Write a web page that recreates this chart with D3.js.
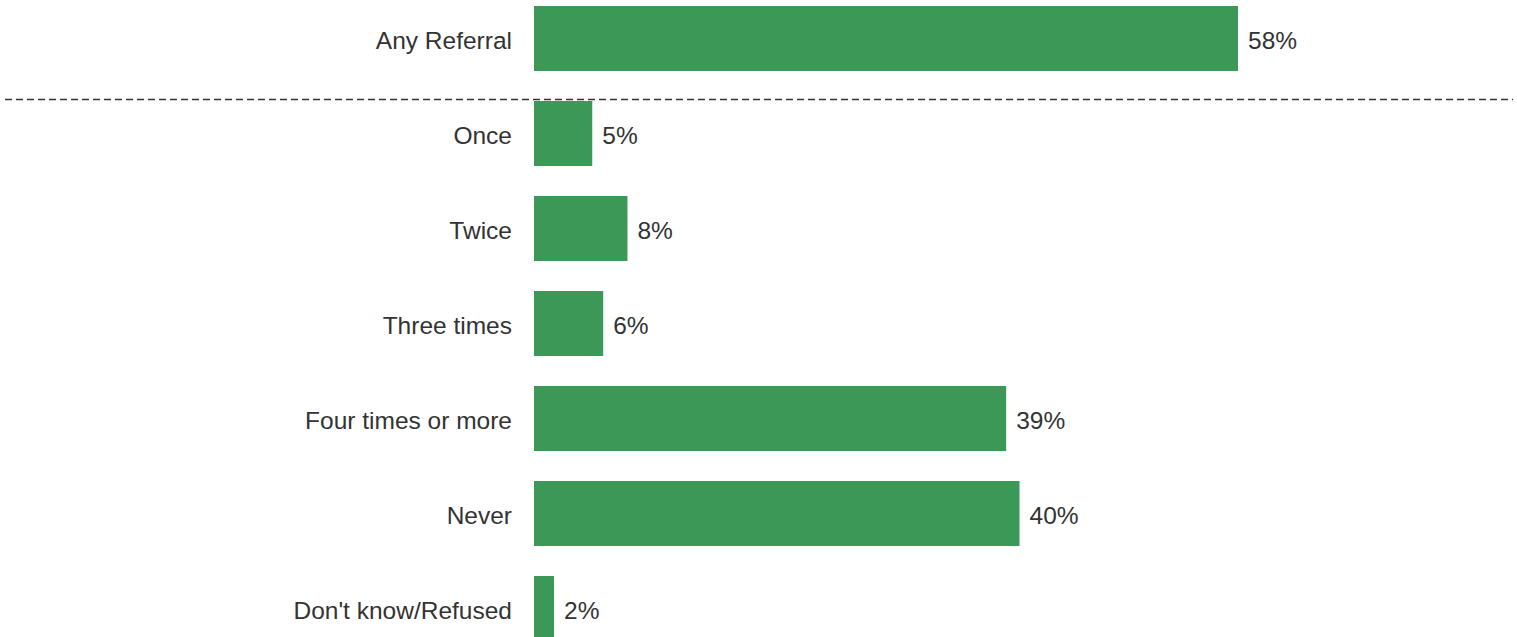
<!DOCTYPE html>
<html>
<head>
<meta charset="utf-8">
<script src="https://cdn.jsdelivr.net/npm/d3@7"></script>
<style>
  html, body { margin: 0; padding: 0; background: #fff; overflow: hidden; }
  svg { display: block; font-family: "Liberation Sans", Arial, sans-serif; }
</style>
</head>
<body>
<svg id="chart" width="1517" height="637"></svg>
<script>
const categories = ["Any Referral", "Once", "Twice", "Three times", "Four times or more", "Never", "Don't know/Refused"];
const values = [58.0, 4.8, 7.7, 5.7, 38.9, 40.0, 1.65];
const valueLabels = ["58%", "5%", "8%", "6%", "39%", "40%", "2%"];

const svg = d3.select("#chart");

const x = d3.scaleLinear().domain([0, 100]).range([534, 534 + 1213.8]);
const y = d3.scaleBand().domain(categories).range([6, 641]).paddingInner(0.316).paddingOuter(0);

const data = categories.map((c, i) => ({ cat: c, v: values[i], label: valueLabels[i] }));

svg.selectAll("rect.bar").data(data).join("rect")
  .attr("class", "bar")
  .attr("x", x(0))
  .attr("y", d => y(d.cat))
  .attr("width", d => x(d.v) - x(0))
  .attr("height", y.bandwidth())
  .attr("fill", "#3c9857");

// category labels (axis)
const axis = d3.axisLeft(y).tickSize(0).tickPadding(0);
const gAxis = svg.append("g").attr("transform", `translate(${512},0)`).call(axis);
gAxis.select(".domain").remove();
gAxis.selectAll("text")
  .attr("font-size", 24.5)
  .attr("fill", "#333")
  .attr("font-family", "'Liberation Sans', Arial, sans-serif")
  .attr("dy", "0.42em");

// value labels
svg.selectAll("text.val").data(data).join("text")
  .attr("class", "val")
  .attr("x", d => x(d.v) + 10)
  .attr("y", d => y(d.cat) + y.bandwidth() / 2)
  .attr("dy", "0.42em")
  .attr("font-size", 24.5)
  .attr("fill", "#333")
  .text(d => d.label);

// dashed separator
svg.append("line")
  .attr("x1", 5).attr("x2", 1513)
  .attr("y1", 99.5).attr("y2", 99.5)
  .attr("stroke", "#333")
  .attr("stroke-width", 1.3)
  .attr("stroke-dasharray", "7,4");
</script>
</body>
</html>
